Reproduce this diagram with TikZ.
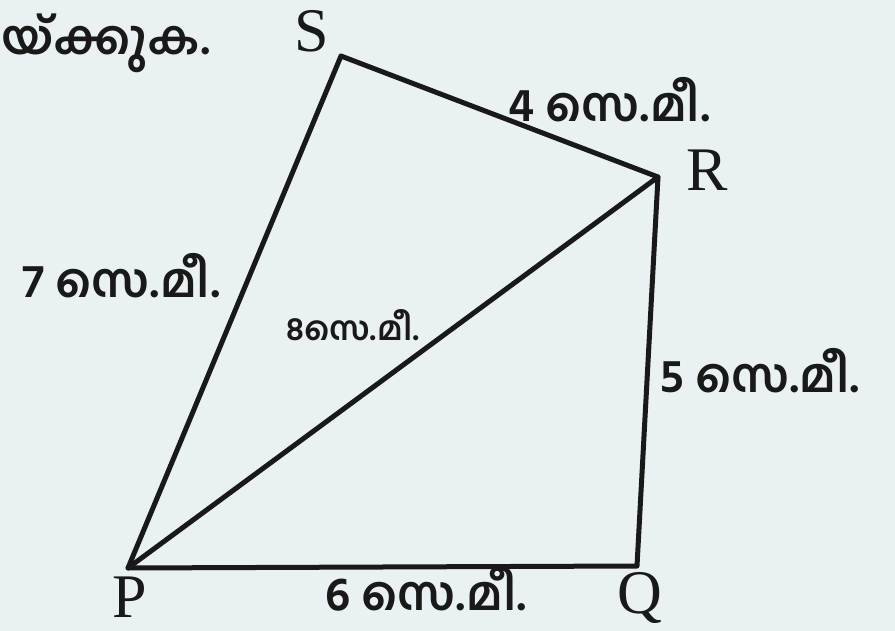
\documentclass[tikz,border=0pt]{standalone}
\usepackage{fontspec}
\setmainfont{Liberation Serif}
\newfontfamily\mlfont[Script=Malayalam]{Hind Kochi}
\definecolor{bgpaper}{HTML}{EAF1F3}
\begin{document}
\begin{tikzpicture}[x=1pt,y=-1pt,
  edge/.style={line width=5pt,line join=round,line cap=round,black!90},
  vlabel/.style={font=\fontsize{62}{70}\selectfont,inner sep=0pt,text=black!90},
  mlabel/.style={font=\mlfont\bfseries\fontsize{47}{54}\selectfont,inner sep=0pt,text=black!90},
  smlabel/.style={font=\mlfont\bfseries\fontsize{33}{40}\selectfont,inner sep=0pt,text=black!90}]
\fill[bgpaper] (0,0) rectangle (895,631);
\useasboundingbox (0,0) rectangle (895,631);
\coordinate (P) at (128,568);
\coordinate (Q) at (637,566);
\coordinate (R) at (658,177);
\coordinate (S) at (341,56);
\draw[edge] (P) -- (Q) -- (R) -- (S) -- cycle;
\draw[edge] (P) -- (R);
\node[vlabel] (lS) at (312,31) {S};
\node[vlabel] (lR) at (707,170) {R};
\node[vlabel] (lP) at (130,597) {P};
\node[vlabel] (lQ) at (640,598) {Q};
\node[mlabel,anchor=west] (top) at (1,43) {യ്ക്കുക.};
\node[mlabel,anchor=west] (l4) at (508,100) {4 സെ.മീ.};
\node[mlabel,anchor=west] (l7) at (22,276) {7 സെ.മീ.};
\node[mlabel,anchor=west] (l5) at (660,371) {5 സെ.മീ.};
\node[mlabel,anchor=west] (l6) at (325,589) {6 സെ.മീ.};
\node[smlabel,anchor=west] (l8) at (286,325) {8സെ.മീ.};
\end{tikzpicture}
\end{document}
